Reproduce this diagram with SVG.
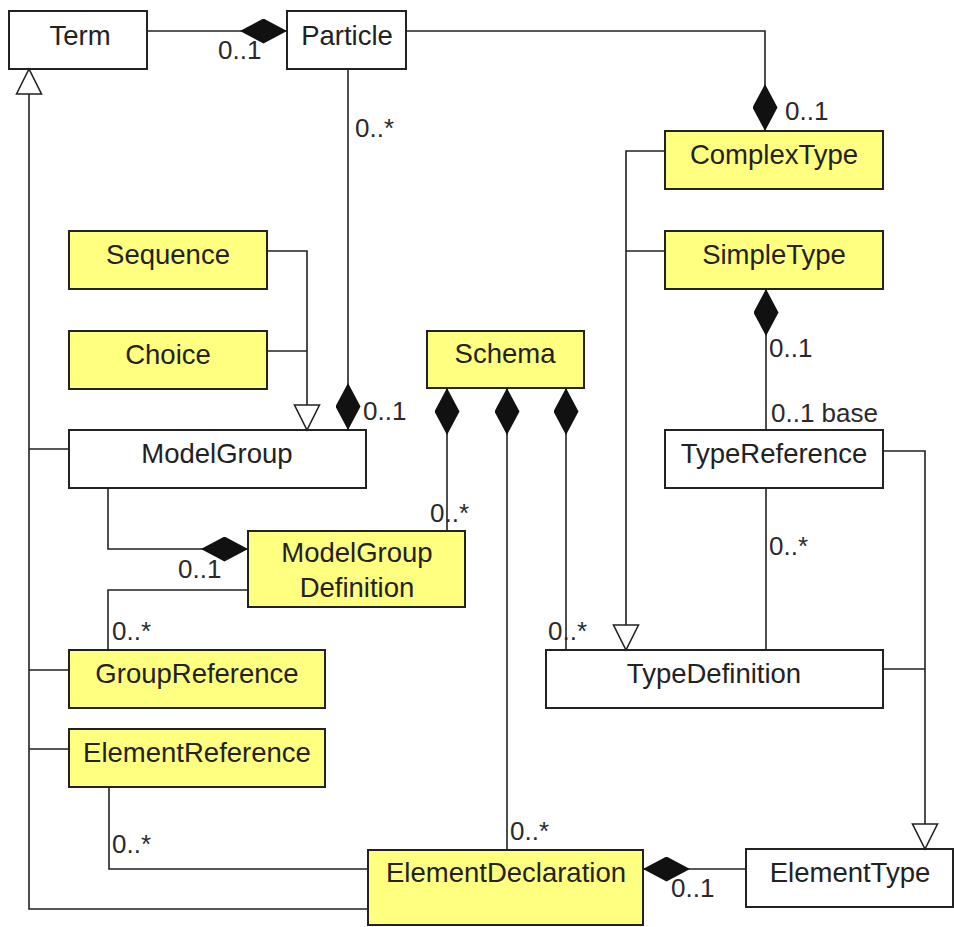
<svg xmlns="http://www.w3.org/2000/svg" width="954" height="927" viewBox="0 0 954 927">
<style>
.box{fill:#ffffff;stroke:#222;stroke-width:2}
.yel{fill:#ffff80;stroke:#222;stroke-width:2}
.name{font-family:"Liberation Sans",Arial,sans-serif;font-size:27.5px;fill:#222;text-anchor:middle}
.lbl{font-family:"Liberation Sans",Arial,sans-serif;font-size:26px;fill:#2a2a2a}
.ln{fill:none;stroke:#222;stroke-width:1.6}
.comp{marker-end:url(#diamond)}
.gen{marker-end:url(#tri)}
</style>
<defs>
<marker id="diamond" viewBox="0 0 47 25" refX="47" refY="12.5" markerWidth="47" markerHeight="25" markerUnits="userSpaceOnUse" orient="auto">
<path d="M0,12.5 L23.5,0 L47,12.5 L23.5,25 Z" fill="#111"/>
</marker>
<marker id="tri" viewBox="-2 -2 29 29" refX="25" refY="12.5" markerWidth="29" markerHeight="29" markerUnits="userSpaceOnUse" orient="auto">
<path d="M0,0 L25,12.5 L0,25 Z" fill="#fff" stroke="#222" stroke-width="1.6"/>
</marker>
</defs>
<rect width="954" height="927" fill="#fff"/>

<g id="Term"><rect class="box" x="9" y="11" width="138" height="58"/><text class="name" x="80" y="45">Term</text></g>
<g id="Particle"><rect class="box" x="287" y="11" width="119" height="58"/><text class="name" x="347" y="45">Particle</text></g>
<g id="ComplexType"><rect class="yel" x="665" y="131" width="218" height="58"/><text class="name" x="774" y="164">ComplexType</text></g>
<g id="Sequence"><rect class="yel" x="69" y="231" width="198" height="58"/><text class="name" x="168" y="264">Sequence</text></g>
<g id="SimpleType"><rect class="yel" x="665" y="231" width="218" height="58"/><text class="name" x="774" y="264">SimpleType</text></g>
<g id="Choice"><rect class="yel" x="69" y="331" width="198" height="58"/><text class="name" x="168" y="364">Choice</text></g>
<g id="Schema"><rect class="yel" x="427" y="331" width="157" height="57"/><text class="name" x="505" y="363">Schema</text></g>
<g id="ModelGroup"><rect class="box" x="69" y="430" width="297" height="58"/><text class="name" x="217" y="463">ModelGroup</text></g>
<g id="TypeReference"><rect class="box" x="665" y="430" width="218" height="58"/><text class="name" x="774" y="463">TypeReference</text></g>
<g id="ModelGroupDefinition"><rect class="yel" x="248" y="531" width="217" height="76"/><text class="name" x="357" y="562">ModelGroup</text><text class="name" x="357" y="597">Definition</text></g>
<g id="GroupReference"><rect class="yel" x="69" y="650" width="256" height="58"/><text class="name" x="197" y="683">GroupReference</text></g>
<g id="TypeDefinition"><rect class="box" x="546" y="650" width="337" height="58"/><text class="name" x="714" y="683">TypeDefinition</text></g>
<g id="ElementReference"><rect class="yel" x="69" y="729" width="256" height="58"/><text class="name" x="197" y="762">ElementReference</text></g>
<g id="ElementDeclaration"><rect class="yel" x="368" y="850" width="275" height="75"/><text class="name" x="506" y="882">ElementDeclaration</text></g>
<g id="ElementType"><rect class="box" x="746" y="849" width="207" height="58"/><text class="name" x="850" y="882">ElementType</text></g>

<g id="connectors">
<path class="ln comp" d="M147,31 H287"/>
<path class="ln comp" d="M406,31 H765 V131"/>
<path class="ln comp" d="M348,69 V430"/>
<path class="ln comp" d="M766,430 V289"/>
<path class="ln comp" d="M447,531 V388"/>
<path class="ln comp" d="M507,850 V388"/>
<path class="ln comp" d="M566,650 V388"/>
<path class="ln comp" d="M108,488 V549 H248"/>
<path class="ln comp" d="M746,869 H643"/>
<path class="ln gen" d="M368,909 H29 V69"/>
<path class="ln" d="M69,449 H29 M69,670 H29 M69,749 H29"/>
<path class="ln gen" d="M267,251 H307 V430"/>
<path class="ln" d="M267,351 H307"/>
<path class="ln gen" d="M665,151 H626 V650"/>
<path class="ln" d="M665,251 H626"/>
<path class="ln gen" d="M883,451 H925 V849"/>
<path class="ln" d="M883,669 H925"/>
<path class="ln" d="M766,488 V650"/>
<path class="ln" d="M248,590 H108 V650"/>
<path class="ln" d="M109,787 V869 H368"/>
<text class="lbl" x="218" y="59">0..1</text>
<text class="lbl" x="355" y="137">0..*</text>
<text class="lbl" x="785" y="120">0..1</text>
<text class="lbl" x="363" y="420">0..1</text>
<text class="lbl" x="769" y="357">0..1</text>
<text class="lbl" x="771" y="422">0..1 base</text>
<text class="lbl" x="430" y="522">0..*</text>
<text class="lbl" x="178" y="578">0..1</text>
<text class="lbl" x="769" y="555">0..*</text>
<text class="lbl" x="112" y="640">0..*</text>
<text class="lbl" x="548" y="640">0..*</text>
<text class="lbl" x="510" y="840">0..*</text>
<text class="lbl" x="112" y="853">0..*</text>
<text class="lbl" x="671" y="897">0..1</text>
</g>
</svg>
